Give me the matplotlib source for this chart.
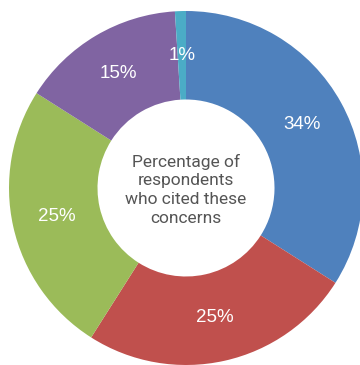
import matplotlib
matplotlib.use("Agg")
import matplotlib.pyplot as plt
import numpy as np

categories = ["A", "B", "C", "D", "E"]
values = [34, 25, 25, 15, 1]
labels = ["34%", "25%", "25%", "15%", "1%"]
colors = ["#4F81BD", "#C0504D", "#9BBB59", "#8064A2", "#4BACC6"]
center_text = "Percentage of\nrespondents\nwho cited these\nconcerns"

W, H = 360, 365
cx, cy, R = 186, 188, 177
fig = plt.figure(figsize=(W / 100, H / 100), dpi=100)
ax = fig.add_axes([0, 0, 1, 1])
ax.axis("off")

ax.pie(values, colors=colors, startangle=90, counterclock=False,
       radius=1, wedgeprops=dict(width=0.5, linewidth=0))
ax.set_xlim(-cx / R, (W - cx) / R)
ax.set_ylim(-(H - cy) / R, cy / R)
ax.set_aspect("auto")

cum = 0
for v, lab in zip(values, labels):
    mid = cum + v / 2
    ang = np.deg2rad(90 - mid / sum(values) * 360)
    ax.text(0.75 * np.cos(ang), 0.75 * np.sin(ang), lab, color="white",
            fontsize=13.5, ha="center", va="center", family="Liberation Sans")
    cum += v

ax.text(0, -0.01, center_text, ha="center", va="center", fontsize=12.5,
        color="#555555", family="Roboto", linespacing=1.32)

fig.savefig("out.png", dpi=100)
